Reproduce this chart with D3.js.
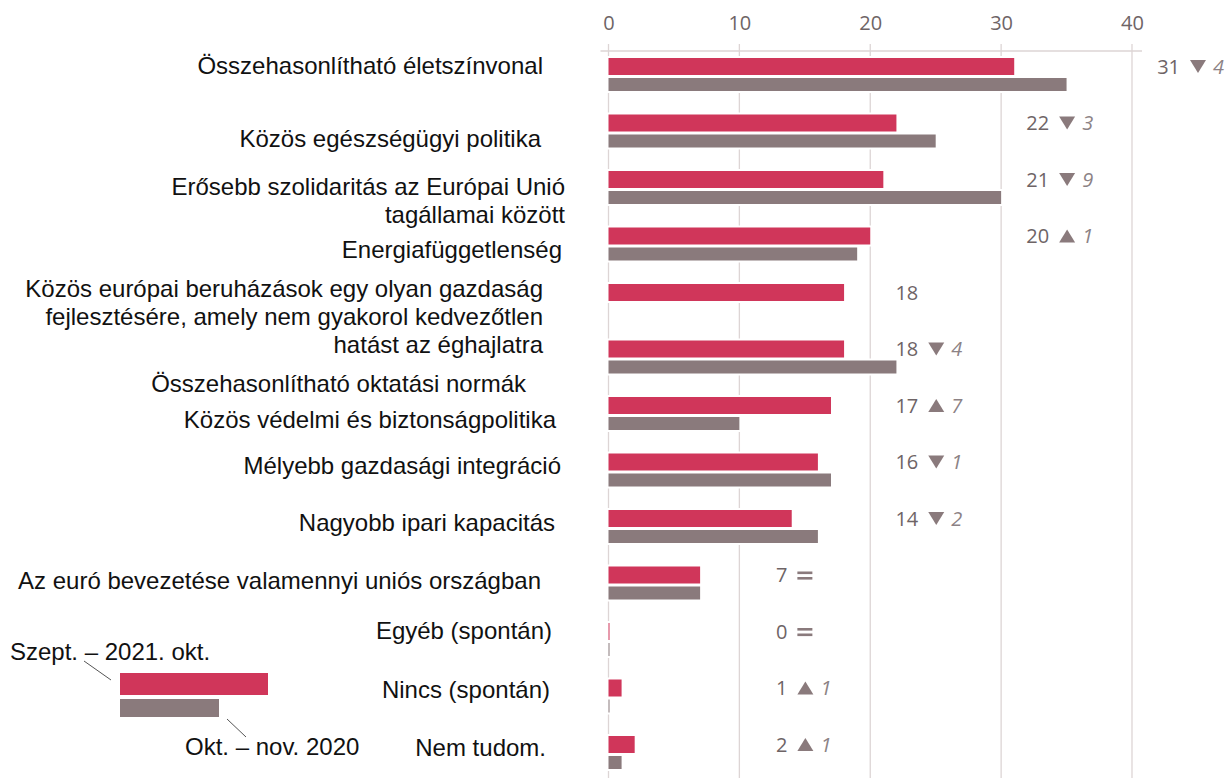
<!DOCTYPE html>
<html>
<head>
<meta charset="utf-8">
<script src="https://cdn.jsdelivr.net/npm/d3@7"></script>
<style>
  html, body { margin: 0; padding: 0; background: #fff; }
  svg { display: block; }
</style>
</head>
<body>
<svg id="chart" width="1227" height="778"></svg>
<script>
// Priorities: share of answers, two survey waves
const categories = [
  ["Összehasonlítható életszínvonal"],
  ["Közös egészségügyi politika"],
  ["Erősebb szolidaritás az Európai Unió", "tagállamai között"],
  ["Energiafüggetlenség"],
  ["Közös európai beruházások egy olyan gazdaság", "fejlesztésére, amely nem gyakorol kedvezőtlen", "hatást az éghajlatra"],
  ["Összehasonlítható oktatási normák"],
  ["Közös védelmi és biztonságpolitika"],
  ["Mélyebb gazdasági integráció"],
  ["Nagyobb ipari kapacitás"],
  ["Az euró bevezetése valamennyi uniós országban"],
  ["Egyéb (spontán)"],
  ["Nincs (spontán)"],
  ["Nem tudom."]
];
const current  = [31, 22, 21, 20, 18, 18, 17, 16, 14, 7, 0, 1, 2];   // Szept. – 2021. okt.
const previous = [35, 25, 30, 19, null, 22, 10, 17, 16, 7, 0, 0, 1]; // Okt. – nov. 2020
const tickValues = [0, 10, 20, 30, 40];
const seriesNames = ["Szept. – 2021. okt.", "Okt. – nov. 2020"];

// Label placement tweaks per row: right edge and vertical shift of the label block
const labelRight = [543, 541, 565, 562, 543, 526, 556, 561, 555, 541, 552, 550, 546];
const labelShift = [-8.5, 8, 13.5, 6, 16.5, 27, 6.5, -4, -3.5, -2, -8.5, -6, -4.5];

const RED = "#d0365a", GREY = "#8a7a7c", TXT = "#6e6466", GRID = "#ddd5d5";
const numFont = "'Open Sans', 'Noto Sans', sans-serif";
const lblFont = "'Liberation Sans', Arial, sans-serif";
const lblSize = 24, numSize = 20;

const svg = d3.select("#chart");

const x = d3.scaleLinear().domain([0, 40]).range([608.5, 1132]);
const rowPitch = 56.5;
const y = d3.scaleBand()
  .domain(d3.range(categories.length))
  .range([58, 58 + rowPitch * categories.length])
  .paddingInner(0).paddingOuter(0);
const redH = 17, gap = 3, greyH = 13;
const blockH = redH + gap + greyH;

// gridlines
svg.append("g").selectAll("line").data(tickValues).join("line")
  .attr("x1", d => x(d)).attr("x2", d => x(d))
  .attr("y1", 44).attr("y2", 778)
  .attr("stroke", GRID).attr("stroke-width", 1.3);

// top axis line
svg.append("line")
  .attr("x1", x(0) - 8).attr("x2", x(40) + 10)
  .attr("y1", 51).attr("y2", 51)
  .attr("stroke", GRID).attr("stroke-width", 1.3);

// tick labels
const axis = svg.append("g")
  .attr("transform", "translate(0,30)")
  .call(d3.axisTop(x).tickValues(tickValues).tickSize(0).tickPadding(0));
axis.select(".domain").remove();
axis.selectAll("text")
  .attr("font-family", numFont).attr("font-size", numSize)
  .attr("fill", TXT);

// bars
const rows = svg.append("g").selectAll("g").data(categories.map((c, i) => i)).join("g")
  .attr("transform", i => `translate(0,${y(i)})`);

function drawBar(sel, val, top, h, color) {
  sel.each(function(i) {
    const v = val[i];
    if (v === null || v === undefined) return;
    const g = d3.select(this);
    const w = Math.max(x(v) - x(0), 1);
    g.append("rect")
      .attr("x", x(0) - 2).attr("y", top - 2)
      .attr("width", w + 4).attr("height", h + 4)
      .attr("fill", "#fff");
    g.append("rect")
      .attr("x", x(0)).attr("y", top)
      .attr("width", w).attr("height", h)
      .attr("fill", color);
  });
}
drawBar(rows, current, 0, redH, RED);
drawBar(rows, previous, redH + gap, greyH, GREY);

// value labels: number, trend marker, change
rows.each(function(i) {
  const g = d3.select(this);
  const cur = current[i], prev = previous[i];
  const col = (Math.floor(cur / 10) + 1) * 10;
  const endX = x(col) + 48;
  const cy = redH / 2;
  g.append("text")
    .attr("x", endX).attr("y", cy).attr("dy", "0.36em")
    .attr("text-anchor", "end")
    .attr("font-family", numFont).attr("font-size", numSize).attr("fill", TXT)
    .text(cur);
  if (prev === null) return;
  const diff = cur - prev;
  const mx = endX + 10;
  if (diff === 0) {
    [-3.5, 2].forEach(o => g.append("rect")
      .attr("x", mx).attr("y", cy + o).attr("width", 15).attr("height", 2.6)
      .attr("fill", GREY));
    return;
  }
  const up = diff > 0;
  const tri = up
    ? `M${mx},${cy + 6.5} L${mx + 16},${cy + 6.5} L${mx + 8},${cy - 6.5} Z`
    : `M${mx},${cy - 6.5} L${mx + 16},${cy - 6.5} L${mx + 8},${cy + 6.5} Z`;
  g.append("path").attr("d", tri).attr("fill", GREY);
  g.append("text")
    .attr("x", mx + 23).attr("y", cy).attr("dy", "0.36em")
    .attr("font-family", numFont).attr("font-size", numSize)
    .attr("font-style", "italic").attr("fill", "#8c8285")
    .text(Math.abs(diff));
});

// category labels
rows.each(function(i) {
  const lines = categories[i];
  const lh = 28;
  const c = blockH / 2 + labelShift[i];
  const t = d3.select(this).append("text")
    .attr("text-anchor", "end")
    .attr("font-family", lblFont).attr("font-size", lblSize).attr("fill", "#111");
  lines.forEach((s, k) => {
    t.append("tspan")
      .attr("x", labelRight[i])
      .attr("y", c + (k - (lines.length - 1) / 2) * lh)
      .attr("dy", "0.35em")
      .text(s);
  });
});

// legend
const lg = svg.append("g");
lg.append("rect").attr("x", 120).attr("y", 673).attr("width", 148).attr("height", 22).attr("fill", RED);
lg.append("rect").attr("x", 120).attr("y", 699).attr("width", 99).attr("height", 18).attr("fill", GREY);
lg.append("line").attr("x1", 84).attr("y1", 661).attr("x2", 111).attr("y2", 680)
  .attr("stroke", "#555").attr("stroke-width", 1);
lg.append("line").attr("x1", 227).attr("y1", 719).attr("x2", 246).attr("y2", 737)
  .attr("stroke", "#555").attr("stroke-width", 1);
lg.append("text").attr("x", 10).attr("y", 652).attr("dy", "0.35em")
  .attr("font-family", lblFont).attr("font-size", lblSize).attr("fill", "#111")
  .text(seriesNames[0]);
lg.append("text").attr("x", 185).attr("y", 747).attr("dy", "0.35em")
  .attr("font-family", lblFont).attr("font-size", lblSize).attr("fill", "#111")
  .text(seriesNames[1]);
</script>
</body>
</html>
